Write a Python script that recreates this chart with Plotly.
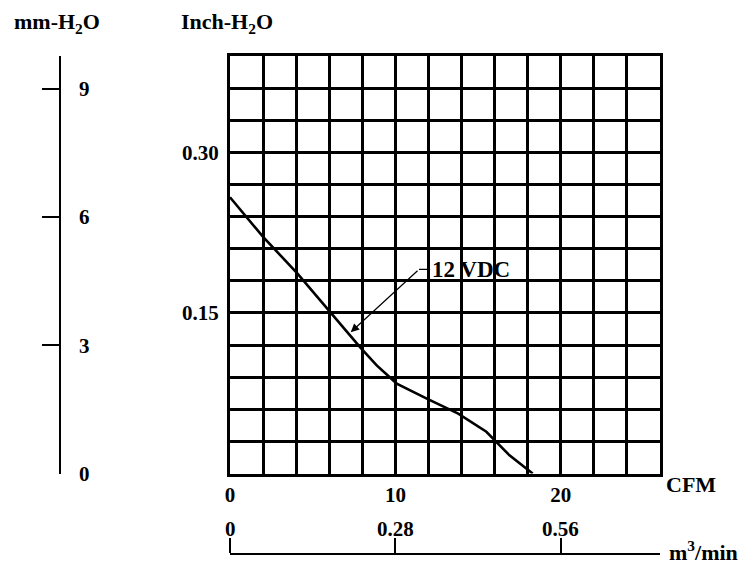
import plotly.graph_objects as go

# ---- data ----
cfm = [0.0, 2.0, 4.07, 6.05, 7.86, 8.87, 10.08, 11.9, 13.8, 15.5, 16.9, 18.3]
inch_h2o = [0.258, 0.221, 0.187, 0.151, 0.118, 0.101, 0.084, 0.070, 0.056, 0.039, 0.017, 0.0]
series_name = "12 VDC"

cfm_tickvals = [0, 10, 20]
cfm_ticktext = ["0", "10", "20"]
inch_tickvals = [0.15, 0.30]
inch_ticktext = ["0.15", "0.30"]
mm_tickvals = [0, 3, 6, 9]
mm_ticktext = ["0", "3", "6", "9"]
m3_tickvals = [0, 0.28, 0.56]
m3_ticktext = ["0", "0.28", "0.56"]

x_range = [0, 26]
y_range = [0, 0.39]
mm_range = [0, 9.76]
m3_range = [0, 0.728]

arrow_tip = (7.3, 0.132)
arrow_elbow = (11.43, 0.1907)
label_pos = (12.1, 0.1907)

W, H = 742, 573
FONT = "Liberation Serif"
TICK_SIZE = 21

def px_x(p):
    return p / W

def px_y(p):
    return 1 - p / H

fig = go.Figure()
fig.add_trace(go.Scatter(x=cfm, y=inch_h2o, mode="lines",
                         line=dict(color="black", width=2.6),
                         showlegend=False, hoverinfo="skip"))
# empty traces to create the secondary axes
fig.add_trace(go.Scatter(x=[], y=[], xaxis="x", yaxis="y2", showlegend=False))
fig.add_trace(go.Scatter(x=[], y=[], xaxis="x2", yaxis="y", showlegend=False))

grid_style = dict(showgrid=True, gridcolor="black", gridwidth=3)
tick_font = dict(family=FONT, size=TICK_SIZE, weight="bold", color="black")

fig.update_layout(
    template="none",
    width=W, height=H,
    margin=dict(l=0, r=0, t=0, b=0, pad=0),
    paper_bgcolor="white", plot_bgcolor="white",
    font=dict(family=FONT, color="black", size=17),
    xaxis=dict(
        domain=[px_x(230), px_x(660)], range=x_range, automargin=False,
        tickvals=cfm_tickvals, ticktext=cfm_ticktext,
        ticks="", ticklabelstandoff=0,
        tickfont=tick_font,
        showline=True, linecolor="black", linewidth=3, mirror=True,
        zeroline=False,
        minor=dict(dtick=2, tick0=0, showgrid=True, gridcolor="black", gridwidth=3, ticks=""),
        **grid_style,
    ),
    yaxis=dict(
        domain=[px_y(473.5), px_y(56)], range=y_range, automargin=False,
        tickvals=inch_tickvals, ticktext=inch_ticktext,
        ticks="", ticklabelstandoff=4,
        tickfont=tick_font,
        showline=True, linecolor="black", linewidth=3, mirror=True,
        zeroline=False,
        minor=dict(dtick=0.03, tick0=0, showgrid=True, gridcolor="black", gridwidth=3, ticks=""),
        **grid_style,
    ),
    yaxis2=dict(
        overlaying="y", anchor="free", position=px_x(60), side="right", automargin=False,
        range=mm_range, tickvals=mm_tickvals, ticktext=mm_ticktext,
        ticks="inside", ticklen=17, tickwidth=1.5, tickcolor="black",
        ticklabelstandoff=14,
        tickfont=tick_font,
        showline=True, linecolor="black", linewidth=1.5,
        showgrid=False, zeroline=False,
    ),
    xaxis2=dict(
        overlaying="x", anchor="free", position=(H - 554) / H, side="top", automargin=False,
        range=m3_range, tickvals=m3_tickvals,
        ticks="outside", ticklen=15, tickwidth=1.5, tickcolor="black",
        showticklabels=False,
        showline=True, linecolor="black", linewidth=1.5,
        showgrid=False, zeroline=False,
    ),
)

# m3/min tick labels placed on the x2 scale
for v, t in zip(m3_tickvals, m3_ticktext):
    fig.add_annotation(x=v, y=px_y(529), xref="x2", yref="paper", text="<b>" + t + "</b>",
                       showarrow=False, xanchor="center", yanchor="middle",
                       font=tick_font)

# leader line + arrow for the series label
fig.add_annotation(x=arrow_tip[0], y=arrow_tip[1], ax=arrow_elbow[0], ay=arrow_elbow[1],
                   xref="x", yref="y", axref="x", ayref="y", text="",
                   showarrow=True, arrowhead=2, arrowsize=1.4, arrowwidth=1.2, arrowcolor="black")
fig.add_shape(type="line", xref="x", yref="y",
              x0=arrow_elbow[0], y0=arrow_elbow[1], x1=label_pos[0], y1=label_pos[1],
              line=dict(color="black", width=1.2))
fig.add_annotation(x=label_pos[0], y=label_pos[1], xref="x", yref="y",
                   text="<b>" + series_name + "</b>", showarrow=False,
                   xanchor="left", yanchor="middle",
                   font=dict(family=FONT, size=23, color="black"))

# axis titles
texts = [
    ("<b>mm-H<sub>2</sub>O</b>", 12, 23),
    ("<b>Inch-H<sub>2</sub>O</b>", 179, 23),
    ("<b>CFM</b>", 664, 484),
    ("<b>m<sup>3</sup>/min</b>", 667, 551),
]
for t, xp, yp in texts:
    fig.add_annotation(x=px_x(xp), y=px_y(yp), xref="paper", yref="paper",
                       text=t, showarrow=False, xanchor="left", yanchor="middle",
                       font=dict(family=FONT, size=22, color="black"))

fig.write_html("out.html")
